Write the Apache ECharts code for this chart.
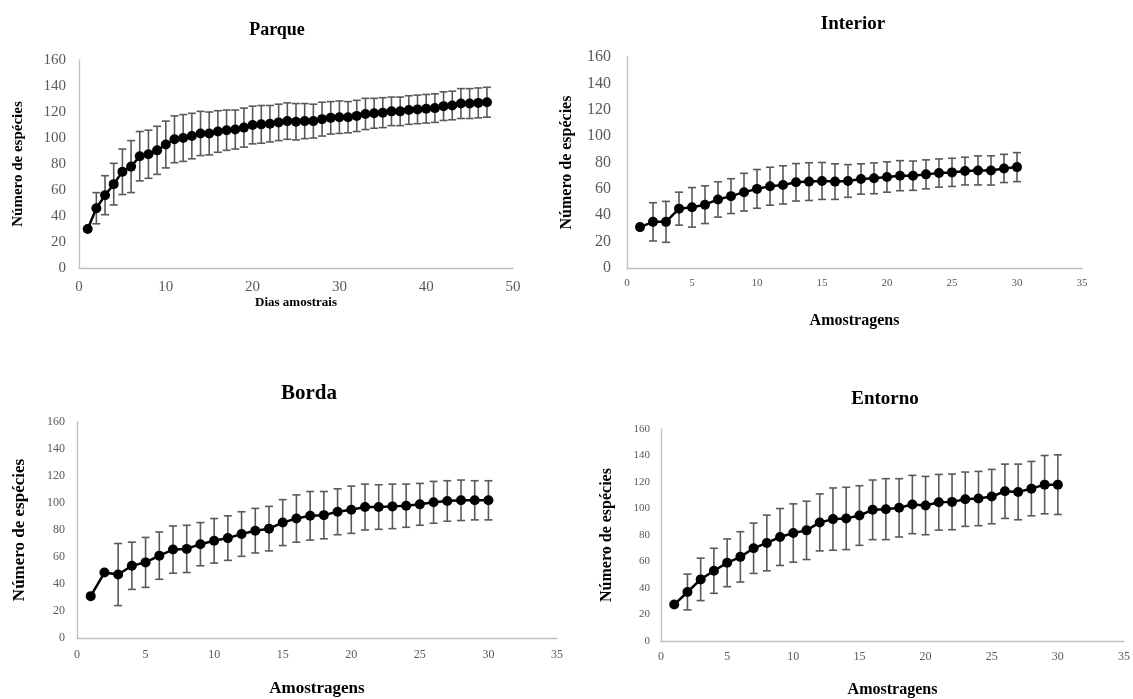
<!DOCTYPE html>
<html>
<head>
<meta charset="utf-8">
<script src="https://cdn.jsdelivr.net/npm/echarts@6/dist/echarts.min.js"></script>
<style>html,body{margin:0;padding:0;background:#fff;}#c{width:1133px;height:699px;}</style>
</head>
<body>
<div id="c"></div>
<script>
// ---- data ----
const yTicks = [0, 20, 40, 60, 80, 100, 120, 140, 160];

const parqueMean = [30, 46, 56, 64.5, 74, 78, 86, 87.5, 90.5, 95,
  99, 100, 101.5, 103.5, 103.5, 105, 106, 106.5, 108, 110,
  110.5, 111, 112, 113, 112.5, 113, 113, 114.5, 115.5, 116,
  116, 117, 118.5, 119, 119.5, 120.5, 120.5, 121.5, 122, 122.5,
  123, 124.5, 125, 126.5, 126.5, 127, 127.5];
const parqueErr = [0, 12, 15, 16, 17.5, 20, 19, 18.5, 18.5, 18,
  18, 18, 17.5, 17, 16.5, 16, 15.5, 15, 15, 14.5,
  14.5, 14, 14, 14, 14, 13.5, 13, 13, 12.5, 12.5,
  12, 12, 12, 11.5, 11.5, 11, 11, 11, 11, 11,
  11, 11, 11, 11.5, 11.5, 11.5, 11.5];

const interiorMean = [31, 35, 35, 45, 46, 48, 52, 54.5, 57.5, 60,
  62, 63, 65, 65.5, 66, 65.5, 66, 67.5, 68, 69,
  70, 70, 71, 72, 72.5, 73.5, 74, 74, 75.5, 76.5];
const interiorErr = [0, 14.5, 15.5, 12.5, 15, 14.3, 13.4, 13.2, 14.3, 14.7,
  14.4, 14.5, 14.2, 14.3, 14, 13.5, 12.4, 11.5, 11.7, 11.5,
  11.4, 11.1, 11, 10.7, 10.7, 10.5, 11, 11.1, 10.7, 11];

const bordaMean = [31, 48.5, 47, 53.5, 56, 61, 65.5, 66, 69.5, 72,
  74, 77, 79.5, 81, 85.5, 88.5, 90.5, 91, 93.5, 95,
  97, 97, 97.5, 98, 99, 100.5, 101.5, 102, 102, 102];
const bordaErr = [0, 0, 23, 17.5, 18.5, 17.5, 17.5, 17.5, 16, 16.5,
  16.5, 16.5, 16.5, 16.5, 17, 17.5, 18, 17.5, 17, 17.5,
  17, 16.5, 16.5, 16, 15.5, 15.5, 15, 15, 14.5, 14.5];

const entornoMean = [27.5, 37, 46.5, 53, 59, 63.5, 70, 74, 78.5, 81.5,
  83.5, 89.5, 92, 92.5, 94.7, 99, 99.5, 100.5, 103, 102.2,
  104.7, 105, 107, 107.5, 109, 113, 112.5, 115, 118, 118];
const entornoErr = [0, 13.5, 16, 17, 18, 19, 19, 21, 21.5, 22,
  22, 21.5, 23.5, 23.5, 22.5, 22.5, 23, 22, 22, 22,
  21, 21, 20.5, 20.5, 20.5, 20.5, 21, 20.5, 22, 22.5];

const titles = ['Parque', 'Interior', 'Borda', 'Entorno'];
const xNames = ['Dias amostrais', 'Amostragens', 'Amostragens', 'Amostragens'];
const yName = 'Número de espécies';
const xMax = [50, 35, 35, 35];
const xStep = [10, 5, 5, 5];

// ---- layout / style ----
const FONT = '"Liberation Serif", "Times New Roman", serif';
const panels = [
  {mean: parqueMean, err: parqueErr,
   grid: {left: 79, top: 60, width: 434, height: 208},
   title: {x: 272, y: 16, size: 18},
   yLab: 15, yLabM: 13, xLab: 15, xLabM: 12,
   yNameSize: 15, yNameGap: 53, xNameSize: 13, xNameGap: 23},
  {mean: interiorMean, err: interiorErr,
   grid: {left: 627, top: 57, width: 455, height: 211},
   title: {x: 848, y: 10, size: 19},
   yLab: 16, yLabM: 16, xLab: 11, xLabM: 10,
   yNameSize: 16, yNameGap: 52, xNameSize: 16, xNameGap: 45},
  {mean: bordaMean, err: bordaErr,
   grid: {left: 77, top: 422, width: 480, height: 216},
   title: {x: 304, y: 378, size: 21},
   yLab: 12, yLabM: 12, xLab: 12, xLabM: 11,
   yNameSize: 17, yNameGap: 49, xNameSize: 17, xNameGap: 42},
  {mean: entornoMean, err: entornoErr,
   grid: {left: 661, top: 429, width: 464, height: 213},
   title: {x: 880, y: 385, size: 19},
   yLab: 11, yLabM: 11, xLab: 12, xLabM: 10,
   yNameSize: 16, yNameGap: 46, xNameSize: 16, xNameGap: 41}
];

const option = {
  backgroundColor: '#fff',
  animation: false,
  title: [], grid: [], xAxis: [], yAxis: [], series: []
};

panels.forEach((p, i) => {
  option.title.push({
    text: titles[i], left: p.title.x, top: p.title.y, textAlign: 'center',
    textStyle: {fontFamily: FONT, fontWeight: 'bold', fontSize: p.title.size, color: '#000'}
  });
  option.grid.push(Object.assign({containLabel: false}, p.grid));
  option.xAxis.push({
    type: 'value', gridIndex: i, min: 0, max: xMax[i], interval: xStep[i],
    name: xNames[i], nameLocation: 'middle', nameGap: p.xNameGap,
    nameTextStyle: {fontFamily: FONT, fontWeight: 'bold', fontSize: p.xNameSize, color: '#000'},
    axisLine: {show: true, lineStyle: {color: '#bfbfbf', width: 1.3}},
    axisTick: {show: false}, splitLine: {show: false},
    axisLabel: {fontFamily: FONT, fontSize: p.xLab, color: '#595959', margin: p.xLabM}
  });
  option.yAxis.push({
    type: 'value', gridIndex: i, min: yTicks[0], max: yTicks[yTicks.length - 1],
    interval: yTicks[1] - yTicks[0],
    name: yName, nameLocation: 'middle', nameGap: p.yNameGap, nameRotate: 90,
    nameTextStyle: {fontFamily: FONT, fontWeight: 'bold', fontSize: p.yNameSize, color: '#000'},
    axisLine: {show: true, lineStyle: {color: '#bfbfbf', width: 1.3}},
    axisTick: {show: false}, splitLine: {show: false},
    axisLabel: {fontFamily: FONT, fontSize: p.yLab, color: '#595959', margin: p.yLabM}
  });
  const pts = p.mean.map((v, k) => [k + 1, v]);
  const errData = p.mean.map((v, k) => [k + 1, v, p.err[k]]);
  option.series.push({
    type: 'custom', xAxisIndex: i, yAxisIndex: i, z: 1,
    data: errData,
    renderItem: function (params, api) {
      const x = api.value(0), y = api.value(1), e = api.value(2);
      if (!e) return null;
      const top = api.coord([x, y + e]);
      const bot = api.coord([x, y - e]);
      const cap = 4;
      const st = {stroke: '#595959', lineWidth: 1.6};
      return {
        type: 'group',
        children: [
          {type: 'line', shape: {x1: top[0], y1: top[1], x2: bot[0], y2: bot[1]}, style: st},
          {type: 'line', shape: {x1: top[0] - cap, y1: top[1], x2: top[0] + cap, y2: top[1]}, style: st},
          {type: 'line', shape: {x1: bot[0] - cap, y1: bot[1], x2: bot[0] + cap, y2: bot[1]}, style: st}
        ]
      };
    }
  });
  option.series.push({
    type: 'line', xAxisIndex: i, yAxisIndex: i, z: 3,
    data: pts, symbol: 'circle', symbolSize: 10, showSymbol: true,
    lineStyle: {color: '#000', width: 2.5},
    itemStyle: {color: '#000'}
  });
});

const chart = echarts.init(document.getElementById('c'));
chart.setOption(option);
</script>
</body>
</html>
